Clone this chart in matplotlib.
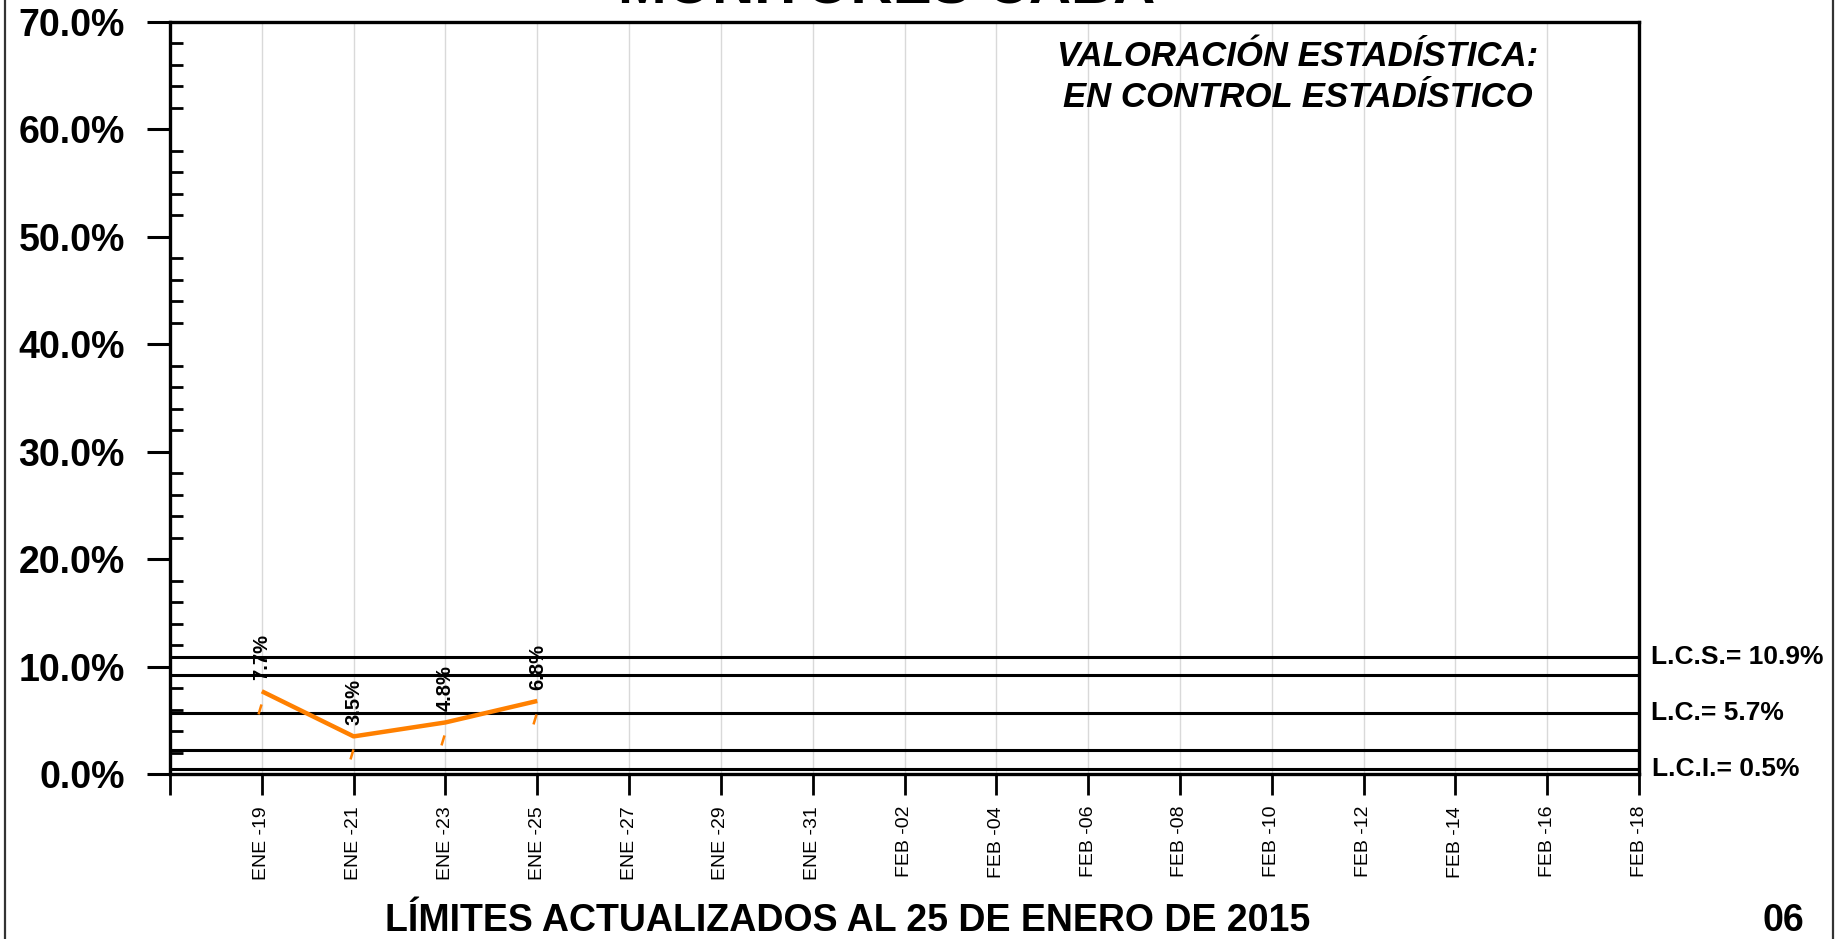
import numpy as np
import matplotlib
matplotlib.use("Agg")
import matplotlib.pyplot as plt
from matplotlib.path import Path
from matplotlib.ticker import MultipleLocator, FuncFormatter

plt.rcParams['font.family'] = ['Liberation Sans', 'DejaVu Sans']

# data
dates = ['ENE -19', 'ENE -21', 'ENE -23', 'ENE -25', 'ENE -27', 'ENE -29', 'ENE -31',
         'FEB -02', 'FEB -04', 'FEB -06', 'FEB -08', 'FEB -10', 'FEB -12', 'FEB -14',
         'FEB -16', 'FEB -18']
values = [7.7, 3.5, 4.8, 6.8]
lcs = 10.9
lc = 5.7
lci = 0.5
upper_warn = 9.2
lower_warn = 2.2

title = 'MONITORES CABA'
status = 'VALORACIÓN ESTADÍSTICA:\nEN CONTROL ESTADÍSTICO'
footer = 'LÍMITES ACTUALIZADOS AL 25 DE ENERO DE 2015'
page = '06'

orange = '#FF8000'

fig = plt.figure(figsize=(18.39, 9.39), dpi=100)
ax = fig.add_axes([170 / 1839, 1 - 774 / 939, (1639 - 170) / 1839, (774 - 22) / 939])

x = np.arange(1, len(values) + 1)

# vertical grid
for xi in range(1, len(dates)):
    ax.axvline(xi, color='#d9d9d9', lw=1, zorder=0)

# control limits
for yv in [lcs, upper_warn, lc, lower_warn, lci]:
    ax.axhline(yv, color='black', lw=2.2, zorder=2)

ax.plot(x, values, color=orange, lw=3.2, zorder=3, solid_capstyle='butt')

# small orange dashes under the points
dash = Path([(-4, -23), (-1, -13)], [Path.MOVETO, Path.LINETO])
ax.plot(x, values, ls='none', marker=dash, markersize=33, markeredgecolor=orange,
        markeredgewidth=1.8, zorder=3)

for xi, v in zip(x, values):
    ax.annotate(f'{v}%', (xi, v), xytext=(0, 8), textcoords='offset points',
                rotation=90, ha='center', va='bottom', fontsize=14.5, fontweight='bold')

ax.set_xlim(0, len(dates))
ax.set_ylim(0, 70)
ax.set_xticks(np.arange(0, len(dates) + 1))
ax.set_xticklabels([''] + dates, rotation=90, fontsize=14)
ax.tick_params(axis='x', direction='out', length=15, width=2, pad=8)

ax.yaxis.set_major_locator(MultipleLocator(10))
ax.yaxis.set_minor_locator(MultipleLocator(2))
ax.yaxis.set_major_formatter(FuncFormatter(lambda v, p: f'{v:.1f}%'))
ax.tick_params(axis='y', which='major', direction='out', length=16.5, width=2.2,
               pad=16, labelsize=27)
ax.tick_params(axis='y', which='minor', direction='in', length=9.5, width=2)
for lab in ax.get_yticklabels():
    lab.set_fontweight('bold')

for s in ax.spines.values():
    s.set_linewidth(2.4)

# limit labels
tr = ax.get_yaxis_transform()
ax.text(1.008, lcs, f'L.C.S.= {lcs}%', transform=tr, ha='left', va='center',
        fontsize=19, fontweight='bold')
ax.text(1.008, lc, f'L.C.= {lc}%', transform=tr, ha='left', va='center',
        fontsize=19, fontweight='bold')
ax.text(1.009, lci, f'L.C.I.= {lci}%', transform=tr, ha='left', va='center',
        fontsize=19, fontweight='bold')

# title is cut off at the top edge, as in the original
fig.text(887 / 1839, 1 - 4 / 939, title, ha='center', va='baseline',
         fontsize=42, fontweight='bold')
fig.text(1298 / 1839, 1 - 77 / 939, status, ha='center', va='center',
         multialignment='center', fontsize=25, fontweight='bold', style='italic',
         linespacing=1.3)
fig.text(848 / 1839, 1 - 921 / 939, footer, ha='center', va='center',
         fontsize=27, fontweight='bold')
fig.text(1783 / 1839, 1 - 921 / 939, page, ha='center', va='center',
         fontsize=27, fontweight='bold')

# chart border (left and right edges)
fig.add_artist(plt.Line2D([5 / 1839, 5 / 1839], [0, 1], color='#333333', lw=1.6))
fig.add_artist(plt.Line2D([1833 / 1839, 1833 / 1839], [0, 1], color='#333333', lw=1.6))

fig.savefig('out.png', dpi=100)
